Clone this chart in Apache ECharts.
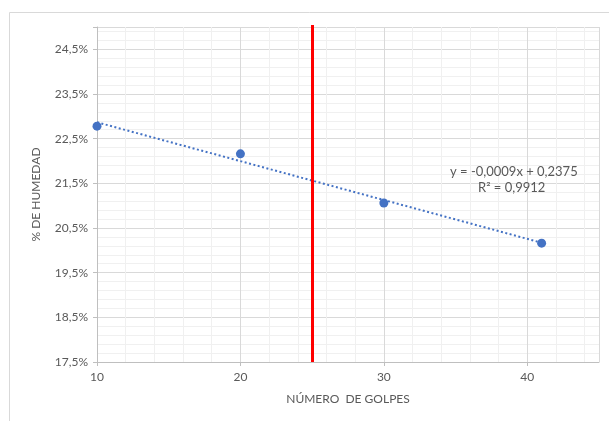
<!DOCTYPE html>
<html>
<head>
<meta charset="utf-8">
<script src="https://cdn.jsdelivr.net/npm/echarts@6/dist/echarts.min.js"></script>
<style>
  html, body { margin: 0; padding: 0; background: #fff; }
  #chart { width: 609px; height: 421px; }
</style>
</head>
<body>
<div id="chart"></div>
<script>
// Number of blows and moisture content (%)
const golpes = [10, 20, 30, 41];
const humedad = [22.78, 22.16, 21.06, 20.16];
// Vertical reference at 25 blows
const golpesReferencia = 25;
const ecuacion = ['y = -0,0009x + 0,2375', 'R² = 0,9912'];

// Least-squares linear trend through the measured points
function tendencia(xs, ys) {
  const n = xs.length;
  const mx = xs.reduce((a, b) => a + b, 0) / n;
  const my = ys.reduce((a, b) => a + b, 0) / n;
  let sxy = 0, sxx = 0;
  for (let i = 0; i < n; i++) {
    sxy += (xs[i] - mx) * (ys[i] - my);
    sxx += (xs[i] - mx) * (xs[i] - mx);
  }
  const m = sxy / sxx;
  const b = my - m * mx;
  return [[xs[0], m * xs[0] + b], [xs[n - 1], m * xs[n - 1] + b]];
}

const gris = '#595959';
const fuente = 'Lato';
const chart = echarts.init(document.getElementById('chart'));

chart.setOption({
  animation: false,
  backgroundColor: '#fff',
  textStyle: { fontFamily: fuente },
  graphic: [{
    type: 'rect',
    shape: { x: 9.5, y: 12.5, width: 610, height: 420 },
    style: { fill: 'none', stroke: '#d9d9d9', lineWidth: 1 },
    silent: true,
    z: 0
  }, {
    type: 'text',
    left: 450, top: 165, z: 100,
    style: { text: ecuacion[0], fill: gris, font: '13px ' + fuente }
  }, {
    type: 'text',
    left: 478, top: 181, z: 100,
    style: { text: ecuacion[1], fill: gris, font: '13px ' + fuente }
  }],
  grid: { left: 97, right: 10, top: 27, bottom: 59 },
  xAxis: {
    type: 'value',
    min: 10, max: 45, interval: 10,
    name: 'NÚMERO  DE GOLPES',
    nameLocation: 'middle',
    nameGap: 31,
    nameTextStyle: { color: gris, fontSize: 12, fontFamily: fuente },
    axisLine: { show: true, onZero: false, lineStyle: { color: '#bfbfbf', width: 1 } },
    axisTick: { show: true, length: 4, lineStyle: { color: '#bfbfbf' } },
    axisLabel: { color: gris, fontSize: 12, margin: 9, showMaxLabel: false },
    splitLine: { show: true, lineStyle: { color: '#d9d9d9', width: 1 } },
    minorTick: { show: false, splitNumber: 5 },
    minorSplitLine: { show: true, lineStyle: { color: '#f0f0f0', width: 1 } }
  },
  yAxis: {
    type: 'value',
    min: 17.5, max: 25, interval: 1,
    name: '% DE HUMEDAD',
    nameLocation: 'middle',
    nameGap: 55,
    nameTextStyle: { color: gris, fontSize: 12, fontFamily: fuente },
    axisLine: { show: true, lineStyle: { color: '#bfbfbf', width: 1 } },
    axisTick: { show: true, length: 4, lineStyle: { color: '#bfbfbf' } },
    axisLabel: {
      color: gris, fontSize: 12, margin: 9,
      formatter: v => (Math.abs(v - 25) < 1e-6 ? '' : v.toFixed(1).replace('.', ',') + '%')
    },
    splitLine: { show: true, lineStyle: { color: '#d9d9d9', width: 1 } },
    minorTick: { show: false, splitNumber: 5 },
    minorSplitLine: { show: true, lineStyle: { color: '#f0f0f0', width: 1 } }
  },
  series: [{
    type: 'line',
    data: tendencia(golpes, humedad),
    symbol: 'none',
    lineStyle: { color: '#4472c4', width: 2, type: [2, 2.5] },
    z: 3,
    silent: true
  }, {
    type: 'scatter',
    data: golpes.map((g, i) => [g, humedad[i]]),
    symbol: 'circle',
    symbolSize: 9,
    itemStyle: { color: '#4472c4', opacity: 1 },
    z: 4,
    markLine: {
      silent: true,
      symbol: 'none',
      label: { show: false },
      lineStyle: { color: '#ff0000', width: 3, type: 'solid', opacity: 1 },
      data: [[{ xAxis: golpesReferencia, y: 25 }, { xAxis: golpesReferencia, y: 362 }]]
    }
  }]
});
</script>
</body>
</html>
